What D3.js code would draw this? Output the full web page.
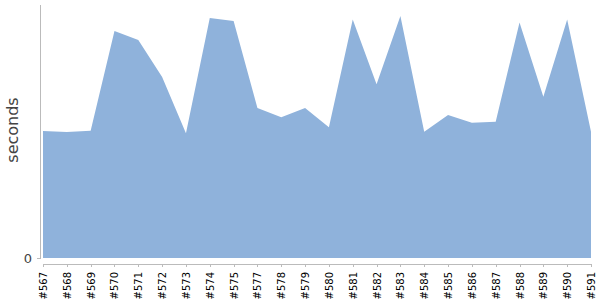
<!DOCTYPE html>
<html>
<head>
<meta charset="utf-8">
<script src="https://cdn.jsdelivr.net/npm/d3@7"></script>
<style>
    body { margin: 0; background: #fff; }
    .axis path, .axis line { stroke: #bbb; shape-rendering: crispEdges; }
    .axis text { font-family: "DejaVu Sans", sans-serif; }
</style>
</head>
<body>
<div id="chart"></div>
<script>
// Builds (x axis) and their durations (seconds)
const builds = ['#567', '#568', '#569', '#570', '#571', '#572', '#573', '#574', '#575', '#577',
    '#578', '#579', '#580', '#581', '#582', '#583', '#584', '#585', '#586', '#587',
    '#588', '#589', '#590', '#591'];
const durations = [127, 126, 127.3, 227, 218, 181, 124.7, 240, 237, 150,
    140.7, 150, 130.7, 238.7, 173.7, 242, 126.3, 143, 135.3, 136.3,
    235.7, 161.3, 238.7, 126.3];
const yTicks = [0];

const data = builds.map((b, i) => ({ build: b, value: durations[i] }));

// Dimensions
const margin = { top: 4, right: 9, bottom: 42, left: 43 };
const width = 600 - margin.left - margin.right;
const height = 300 - margin.top - margin.bottom;

const svg = d3.select('#chart')
    .append('svg')
    .attr('width', 600)
    .attr('height', 300);

const g = svg.append('g')
    .attr('transform', `translate(${margin.left},${margin.top})`);

// Échelles
const x = d3.scalePoint()
    .domain(builds)
    .range([0, width]);

const y = d3.scaleLinear()
    .domain([0, d3.max(durations) * 1.05])
    .range([height, 0]);

// Aire
const area = d3.area()
    .x(d => x(d.build))
    .y0(height)
    .y1(d => y(d.value));

g.append('path')
    .datum(data)
    .attr('d', area)
    .attr('fill', '#8fb2db');

// Axes
const yAxis = g.append('g')
    .attr('class', 'axis')
    .attr('transform', 'translate(-3,0)')
    .call(d3.axisLeft(y).tickValues(yTicks).tickSize(3).tickSizeOuter(0).tickPadding(5));
yAxis.selectAll('text')
    .attr('font-size', 13)
    .attr('fill', '#444');

const xAxis = g.append('g')
    .attr('class', 'axis')
    .attr('transform', `translate(0,${height + 5.5})`)
    .call(d3.axisBottom(x).tickSize(3).tickSizeOuter(0));
xAxis.selectAll('text')
    .attr('font-size', 10)
    .attr('fill', '#000')
    .attr('transform', 'rotate(-90)')
    .attr('text-anchor', 'end')
    .attr('x', -8.5)
    .attr('y', 0)
    .attr('dy', '.35em');

// Titre de l'axe y
svg.append('text')
    .attr('transform', 'translate(18,130) rotate(-90)')
    .attr('text-anchor', 'middle')
    .attr('font-family', '"DejaVu Sans", sans-serif')
    .attr('font-size', 16)
    .attr('fill', '#444')
    .text('seconds');
</script>
</body>
</html>
